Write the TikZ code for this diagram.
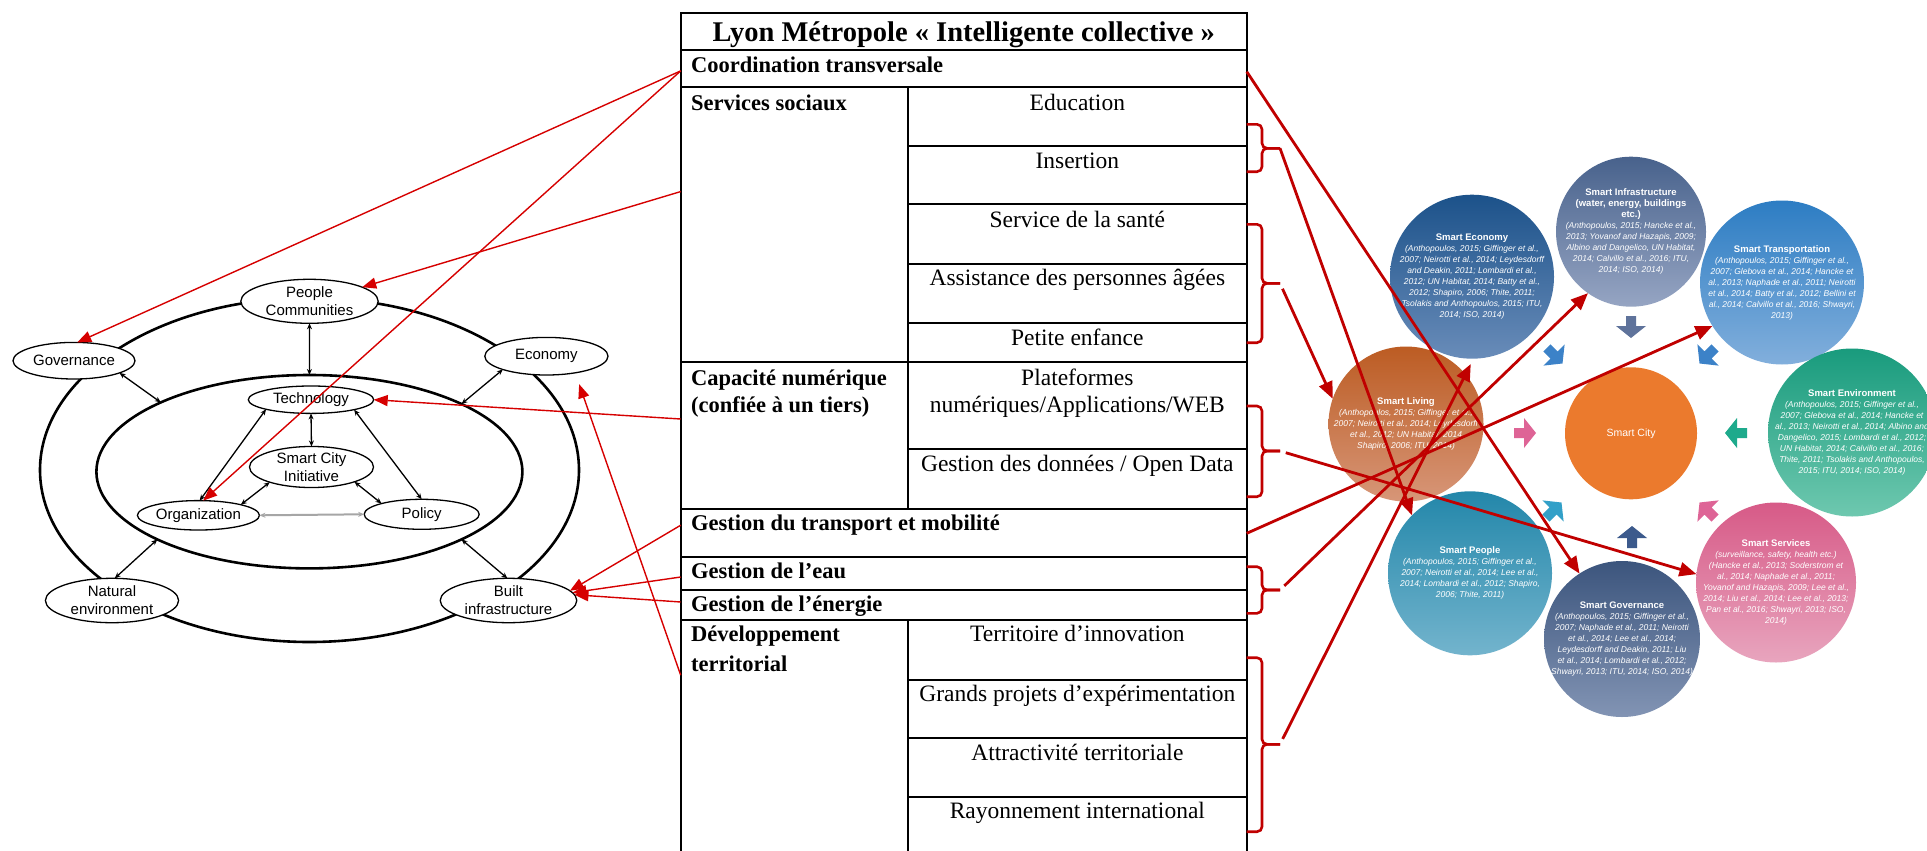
\documentclass[tikz,border=0pt]{standalone}
\usepackage{fontspec}
\setmainfont{Liberation Serif}
\newfontfamily\sansf{Liberation Sans}
\usetikzlibrary{shapes.geometric,arrows.meta,calc,fit}
\definecolor{rred}{RGB}{192,0,0}
\definecolor{lred}{RGB}{214,0,0}
\definecolor{infT}{RGB}{72,98,140}\definecolor{infB}{RGB}{150,165,195}
\definecolor{ecoT}{RGB}{28,82,138}\definecolor{ecoB}{RGB}{105,140,185}
\definecolor{traT}{RGB}{45,125,195}\definecolor{traB}{RGB}{130,175,220}
\definecolor{livT}{RGB}{188,92,35}\definecolor{livB}{RGB}{215,150,120}
\definecolor{cityC}{RGB}{235,122,45}
\definecolor{envT}{RGB}{25,155,125}\definecolor{envB}{RGB}{110,200,175}
\definecolor{peoT}{RGB}{35,135,170}\definecolor{peoB}{RGB}{115,180,205}
\definecolor{govT}{RGB}{60,85,125}\definecolor{govB}{RGB}{130,148,180}
\definecolor{serT}{RGB}{215,90,135}\definecolor{serB}{RGB}{232,165,190}
\definecolor{infA}{RGB}{95,115,155}
\definecolor{bluA}{RGB}{60,130,200}
\definecolor{pnkA}{RGB}{222,100,150}
\definecolor{tlA}{RGB}{30,170,140}
\definecolor{peoA}{RGB}{50,160,200}
\definecolor{govA}{RGB}{60,90,140}
\newcommand\blkarrow[4]{\fill[#4,shift={(#1,#2)},rotate=#3] (-10pt,-5pt) -- (0pt,-5pt) -- (0pt,-15pt) -- (12pt,0pt) -- (0pt,15pt) -- (0pt,5pt) -- (-10pt,5pt) -- cycle;}
\begin{document}
\begin{tikzpicture}[x=1pt,y=-1pt,
  cellst/.style={draw, line width=1.8pt, inner sep=0pt, outer sep=0pt},
  hd/.style={font=\fontsize{28.5}{34}\selectfont\bfseries, inner sep=0pt, anchor=base},
  bt/.style={font=\fontsize{22.5}{28}\selectfont\bfseries, inner sep=0pt, anchor=base west},
  rt/.style={font=\fontsize{23.5}{28}\selectfont, inner sep=0pt, anchor=base},
  ring/.style={ellipse, draw, line width=2.6pt, inner sep=0pt, outer sep=0pt},
  dnode/.style={ellipse, draw, line width=1.3pt, fill=white, inner sep=0pt, outer sep=0pt, align=center, font=\sansf\fontsize{15}{18}\selectfont},
  dbl/.style={line width=1.3pt, {Stealth[length=6pt,width=5pt]}-{Stealth[length=6pt,width=5pt]}},
  circ/.style={circle, inner sep=0pt, outer sep=0pt},
  ctext/.style={text=white, align=center, inner sep=0pt, font=\sansf\fontsize{8.5}{11}\selectfont\itshape},
  larr/.style={draw=lred, line width=1.4pt, -{Triangle[length=14pt,width=11pt]}},
  rarr/.style={draw=rred, line width=2.8pt, -{Triangle[length=17pt,width=14pt]}},
  brk/.style={draw=rred, line width=2.6pt, rounded corners=5pt}
]
\useasboundingbox (0,0) rectangle (1927,851);
\fill[white] (0,0) rectangle (1927,851);

% ---------- right: smart city circles ----------
\node[circ, minimum size=164pt, top color=ecoT, bottom color=ecoB] (secon) at (1472,276.7) {};
\node[circ, minimum size=150pt, top color=infT, bottom color=infB] (sinfra) at (1631,231.7) {};
\node[circ, minimum size=164pt, top color=traT, bottom color=traB] (stransp) at (1782,282.5) {};
\node[circ, minimum size=155pt, top color=livT, bottom color=livB] (sliving) at (1406,424) {};
\node[circ, minimum size=132pt, fill=cityC] (scity) at (1631,433.3) {};
\node[circ, minimum size=168pt, top color=envT, bottom color=envB] (senv) at (1852,432.5) {};
\node[circ, minimum size=164pt, top color=peoT, bottom color=peoB] (speople) at (1470,573.3) {};
\node[circ, minimum size=156pt, top color=govT, bottom color=govB] (sgov) at (1622,639) {};
\node[circ, minimum size=160pt, top color=serT, bottom color=serB] (sserv) at (1776,582.5) {};

\blkarrow{1631}{326}{-90}{infA}
\blkarrow{1554}{355}{-45}{bluA}
\blkarrow{1708}{355}{-135}{bluA}
\blkarrow{1524}{433}{0}{pnkA}
\blkarrow{1737}{433}{180}{tlA}
\blkarrow{1553}{511}{45}{peoA}
\blkarrow{1632}{538}{90}{govA}
\blkarrow{1708}{511}{135}{pnkA}

\node[ctext] (tSecon) at (secon) {{\upshape\bfseries\fontsize{9.5}{12}\selectfont Smart Economy}\\(Anthopoulos, 2015; Giffinger et al.,\\2007; Neirotti et al., 2014; Leydesdorff\\and Deakin, 2011; Lombardi et al.,\\2012; UN Habitat, 2014; Batty et al.,\\2012; Shapiro, 2006; Thite, 2011;\\Tsolakis and Anthopoulos, 2015; ITU,\\2014; ISO, 2014)};
\node[ctext] (tSinfra) at (sinfra) {{\upshape\bfseries\fontsize{9.5}{12}\selectfont Smart Infrastructure}\\{\upshape\bfseries\fontsize{9.5}{12}\selectfont (water, energy, buildings}\\{\upshape\bfseries\fontsize{9.5}{12}\selectfont etc.)}\\(Anthopoulos, 2015; Hancke et al.,\\2013; Yovanof and Hazapis, 2009;\\Albino and Dangelico, UN Habitat,\\2014; Calvillo et al., 2016; ITU,\\2014; ISO, 2014)};
\node[ctext] (tStransp) at (stransp) {{\upshape\bfseries\fontsize{9.5}{12}\selectfont Smart Transportation}\\(Anthopoulos, 2015; Giffinger et al.,\\2007; Glebova et al., 2014; Hancke et\\al., 2013; Naphade et al., 2011; Neirotti\\et al., 2014; Batty et al., 2012; Bellini et\\al., 2014; Calvillo et al., 2016; Shwayri,\\2013)};
\node[ctext] (tSliving) at (sliving) {{\upshape\bfseries\fontsize{9.5}{12}\selectfont Smart Living}\\(Anthopoulos, 2015; Giffinger et al.,\\2007; Neirotti et al., 2014; Leydesdorff\\et al., 2012; UN Habitat, 2014\\Shapiro, 2006; ITU, 2014)};
\node[text=white, inner sep=0pt, font=\sansf\fontsize{10.5}{12}\selectfont] (tScity) at (scity) {Smart City};
\node[ctext] (tSenv) at (senv) {{\upshape\bfseries\fontsize{9.5}{12}\selectfont Smart Environment}\\(Anthopoulos, 2015; Giffinger et al.,\\2007; Glebova et al., 2014; Hancke et\\al., 2013; Neirotti et al., 2014; Albino and\\Dangelico, 2015; Lombardi et al., 2012;\\UN Habitat, 2014; Calvillo et al., 2016;\\Thite, 2011; Tsolakis and Anthopoulos,\\2015; ITU, 2014; ISO, 2014)};
\node[ctext] (tSpeople) at (speople) {{\upshape\bfseries\fontsize{9.5}{12}\selectfont Smart People}\\(Anthopoulos, 2015; Giffinger et al.,\\2007; Neirotti et al., 2014; Lee et al.,\\2014; Lombardi et al., 2012; Shapiro,\\2006; Thite, 2011)};
\node[ctext] (tSgov) at (sgov) {{\upshape\bfseries\fontsize{9.5}{12}\selectfont Smart Governance}\\(Anthopoulos, 2015; Giffinger et al.,\\2007; Naphade et al., 2011; Neirotti\\et al., 2014; Lee et al., 2014;\\Leydesdorff and Deakin, 2011; Liu\\et al., 2014; Lombardi et al., 2012;\\Shwayri, 2013; ITU, 2014; ISO, 2014)};
\node[ctext] (tSserv) at (sserv) {{\upshape\bfseries\fontsize{9.5}{12}\selectfont Smart Services}\\(surveillance, safety, health etc.)\\(Hancke et al., 2013; Soderstrom et\\al., 2014; Naphade et al., 2011;\\Yovanof and Hazapis, 2009; Lee et al.,\\2014; Liu et al., 2014; Lee et al., 2013;\\Pan et al., 2016; Shwayri, 2013; ISO,\\2014)};

% ---------- left: smart city initiative diagram ----------
\node[ring, minimum width=539pt, minimum height=344pt] (outer) at (309.5,470) {};
\node[ring, minimum width=426pt, minimum height=193.4pt] (inner) at (309.4,471.7) {};
\node[dnode, minimum width=137.4pt, minimum height=44pt] (people) at (309.5,301.3) {People\\Communities};
\node[dnode, minimum width=122pt, minimum height=36.6pt] (gov) at (74,360.7) {Governance};
\node[dnode, minimum width=123.2pt, minimum height=37.6pt] (econ) at (546.4,356.2) {Economy};
\node[dnode, minimum width=125.4pt, minimum height=27.4pt] (tech) at (311,399.7) {Technology};
\node[dnode, minimum width=124pt, minimum height=40.6pt] (sci) at (311.5,467) {Smart City\\Initiative};
\node[dnode, minimum width=122pt, minimum height=29.4pt] (org) at (198.4,515.3) {Organization};
\node[dnode, minimum width=115pt, minimum height=30pt] (policy) at (421.7,514.3) {Policy};
\node[dnode, minimum width=133.2pt, minimum height=44.4pt] (natural) at (112,600.5) {Natural\\environment};
\node[dnode, minimum width=136.6pt, minimum height=44.4pt] (built) at (508.5,600.5) {Built\\infrastructure};

\draw[dbl] (people.south) -- (inner.north);
\draw[dbl] (gov.-15.5) -- (inner.155.6);
\draw[dbl] (econ.197.6) -- (inner.24.2);
\draw[dbl] (natural.83) -- (inner.204.3);
\draw[dbl] (built.93) -- (inner.-24.1);
\draw[dbl] (tech.south) -- (sci.north);
\draw[dbl] (tech.192.7) -- (org.85);
\draw[dbl] (tech.-13) -- (policy.north);
\draw[dbl] (sci.200) -- (org.14.3);
\draw[dbl] (sci.-19.4) -- (policy.165.6);
\draw[dbl, draw=gray!70, line width=2pt] (org.east) -- (policy.west);

% ---------- table ----------
\node[cellst, fit={(680.7,13.3) (1246.7,50)}] (title) {};
\node[cellst, fit={(680.7,50) (1246.7,87.3)}] (coord) {};
\node[cellst, fit={(680.7,87.3) (908,361.7)}] (ss) {};
\node[cellst, fit={(908,87.3) (1246.7,145.7)}] (edu) {};
\node[cellst, fit={(908,145.7) (1246.7,204.3)}] (ins) {};
\node[cellst, fit={(908,204.3) (1246.7,264)}] (sante) {};
\node[cellst, fit={(908,264) (1246.7,322.7)}] (assist) {};
\node[cellst, fit={(908,322.7) (1246.7,361.7)}] (petite) {};
\node[cellst, fit={(680.7,361.7) (908,509)}] (capa) {};
\node[cellst, fit={(908,361.7) (1246.7,448.7)}] (plat) {};
\node[cellst, fit={(908,448.7) (1246.7,509)}] (data) {};
\node[cellst, fit={(680.7,509) (1246.7,556.7)}] (transp) {};
\node[cellst, fit={(680.7,556.7) (1246.7,590)}] (eau) {};
\node[cellst, fit={(680.7,590) (1246.7,620)}] (energ) {};
\node[cellst, fit={(680.7,620) (908,854)}] (dev) {};
\node[cellst, fit={(908,620) (1246.7,680)}] (terr) {};
\node[cellst, fit={(908,680) (1246.7,737.7)}] (grands) {};
\node[cellst, fit={(908,737.7) (1246.7,796.7)}] (attr) {};
\node[cellst, fit={(908,796.7) (1246.7,854)}] (rayon) {};

\node[hd] (tTitle) at ($(title.north)+(0,28.4)$) {Lyon Métropole « Intelligente collective »};
\node[bt] (tCoord) at ($(coord.north west)+(10.3,22.7)$) {Coordination transversale};
\node[bt] (tSS) at ($(ss.north west)+(10.3,22.7)$) {Services sociaux};
\node[rt] (tEdu) at ($(edu.north)+(0,22.7)$) {Education};
\node[rt] (tIns) at ($(ins.north)+(0,22.6)$) {Insertion};
\node[rt] (tSante) at ($(sante.north)+(0,23.4)$) {Service de la santé};
\node[rt] (tAssist) at ($(assist.north)+(0,21.7)$) {Assistance des personnes âgées};
\node[rt] (tPetite) at ($(petite.north)+(0,22.3)$) {Petite enfance};
\node[bt] (tCapa1) at ($(capa.north west)+(10.3,23.3)$) {Capacité numérique};
\node[bt] (tCapa2) at ($(capa.north west)+(10.3,50.6)$) {(confiée à un tiers)};
\node[rt] (tPlat1) at ($(plat.north)+(0,23.3)$) {Plateformes};
\node[rt] (tPlat2) at ($(plat.north)+(0,50.6)$) {numériques/Applications/WEB};
\node[rt] (tData) at ($(data.north)+(0,23)$) {Gestion des données / Open Data};
\node[bt] (tTransp) at ($(transp.north west)+(10.3,21)$) {Gestion du transport et mobilité};
\node[bt] (tEau) at ($(eau.north west)+(10.3,21.6)$) {Gestion de l’eau};
\node[bt] (tEnerg) at ($(energ.north west)+(10.3,21.7)$) {Gestion de l’énergie};
\node[bt] (tDev1) at ($(dev.north west)+(10.3,21.7)$) {Développement};
\node[bt] (tDev2) at ($(dev.north west)+(10.3,51.7)$) {territorial};
\node[rt] (tTerr) at ($(terr.north)+(0,21.7)$) {Territoire d’innovation};
\node[rt] (tGrands) at ($(grands.north)+(0,21.7)$) {Grands projets d’expérimentation};
\node[rt] (tAttr) at ($(attr.north)+(0,22.3)$) {Attractivité territoriale};
\node[rt] (tRayon) at ($(rayon.north)+(0,21.7)$) {Rayonnement international};

% ---------- brackets ----------
\coordinate (b1) at (1280,148.3);
\coordinate (b2) at (1280,283.3);
\coordinate (b3) at (1280,451);
\coordinate (b4) at (1280,590);
\coordinate (b5) at (1280,744.3);
\draw[brk] (1246.7,124.3) -- (1262,124.3) -- (1262,148.3) -- (b1);
\draw[brk] (1246.7,171.7) -- (1262,171.7) -- (1262,148.3) -- (b1);
\draw[brk] (1246.7,224.3) -- (1262,224.3) -- (1262,283.3) -- (b2);
\draw[brk] (1246.7,342.7) -- (1262,342.7) -- (1262,283.3) -- (b2);
\draw[brk] (1246.7,406) -- (1262,406) -- (1262,451) -- (b3);
\draw[brk] (1246.7,496.7) -- (1262,496.7) -- (1262,451) -- (b3);
\draw[brk] (1246.7,566.7) -- (1262,566.7) -- (1262,590) -- (b4);
\draw[brk] (1246.7,613.3) -- (1262,613.3) -- (1262,590) -- (b4);
\draw[brk] (1246.7,657.7) -- (1262,657.7) -- (1262,744.3) -- (b5);
\draw[brk] (1246.7,831.7) -- (1262,831.7) -- (1262,744.3) -- (b5);

% ---------- right red arrows ----------
\draw[rarr] ($(coord.north east)!0.58!(coord.south east)$) -- (sgov.123.3);
\draw[rarr] (b1) -- (speople.135);
\draw[rarr, shorten <=6pt] (b2) -- (sliving.161.6);
\draw[rarr, shorten <=6pt] (b3) -- (sserv.174.6);
\draw[rarr] ($(transp.north east)!0.51!(transp.south east)$) -- (stransp.212.3);
\draw[rarr, shorten <=6pt] (b4) -- (sinfra.235.1);
\draw[rarr, shorten <=6pt, shorten >=6pt] (b5) -- (secon.-89);

% ---------- left red arrows ----------
\draw[larr] ($(coord.north west)!0.56!(coord.south west)$) -- (gov.80);
\draw[larr] ($(coord.north west)!0.56!(coord.south west)$) -- (org.72);
\draw[larr] ($(ss.north west)!0.38!(ss.south west)$) -- (people.15);
\draw[larr] ($(capa.north west)!0.389!(capa.south west)$) -- (tech.0);
\draw[larr] ($(transp.north west)!0.34!(transp.south west)$) -- (built.9);
\draw[larr] ($(eau.north west)!0.61!(eau.south west)$) -- (built.7);
\draw[larr] ($(energ.north west)!0.4!(energ.south west)$) -- (built.5);
\draw[larr, shorten >=12pt] ($(dev.north west)!0.236!(dev.south west)$) -- (econ.-30);
\end{tikzpicture}
\end{document}
